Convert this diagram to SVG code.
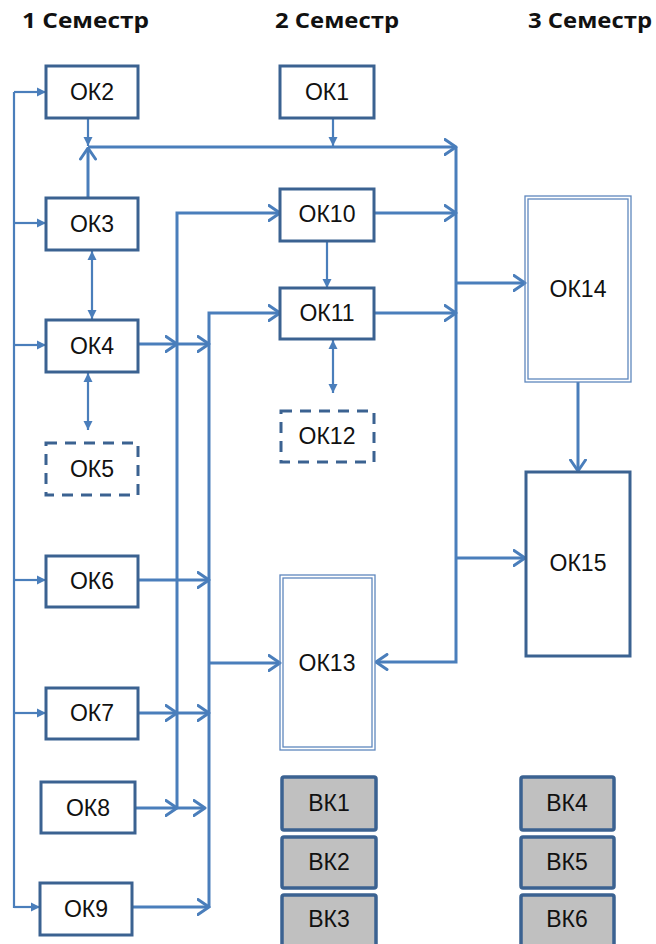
<svg xmlns="http://www.w3.org/2000/svg" width="656" height="944" viewBox="0 0 656 944">
<style>
.box{fill:#fff;stroke:#3B6291;stroke-width:3}
.dash{fill:#fff;stroke:#3B6291;stroke-width:3;stroke-dasharray:11 8}
.dbl{fill:none;stroke:#5F87BD;stroke-width:1.3}
.vk{fill:#C0C0C0;stroke:#3B6291;stroke-width:3.5}
.t{font-family:"Liberation Sans",Arial,sans-serif;font-size:23px;fill:#111;text-anchor:middle;dominant-baseline:central}
.h{font-family:"Open Sans","Liberation Sans",Arial,sans-serif;font-size:22px;font-weight:bold;fill:#111}
.c{fill:none;stroke:#4A7EBB;stroke-width:3}
.c2{fill:none;stroke:#4A7EBB;stroke-width:2.2}
.ch{marker-end:url(#chev)}
.tr{marker-end:url(#tri)}
.tr2{marker-start:url(#tri);marker-end:url(#tri)}
</style>
<defs>
<marker id="chev" viewBox="0 0 14 18" refX="12.5" refY="9" markerWidth="14" markerHeight="18" orient="auto" markerUnits="userSpaceOnUse">
<path d="M1.5,1.5 L12.5,9 L1.5,16.5" fill="none" stroke="#4A7EBB" stroke-width="3" stroke-linecap="round" stroke-linejoin="round"/>
</marker>
<marker id="tri" viewBox="0 0 10 10" refX="10" refY="5" markerWidth="9" markerHeight="10" orient="auto-start-reverse" markerUnits="userSpaceOnUse">
<path d="M0,0 L10,5 L0,10 z" fill="#4A7EBB"/>
</marker>
</defs>

<g id="headers">
<text class="h" x="22" y="28" textLength="127" lengthAdjust="spacingAndGlyphs">1 Семестр</text>
<text class="h" x="275" y="28" textLength="124" lengthAdjust="spacingAndGlyphs">2 Семестр</text>
<text class="h" x="528" y="28" textLength="124" lengthAdjust="spacingAndGlyphs">3 Семестр</text>
</g>

<g id="connectors">
<path class="c2" d="M14,92 V908"/>
<path class="c2 tr" d="M14,92 H46"/>
<path class="c2 tr" d="M14,223 H46"/>
<path class="c2 tr" d="M14,345 H46"/>
<path class="c2 tr" d="M14,580 H46"/>
<path class="c2 tr" d="M14,713 H46"/>
<path class="c2 tr" d="M14,907 H40"/>
<path class="c2 tr" d="M88,118 V146"/>
<path class="c ch" d="M88,198 V148"/>
<path class="c ch" d="M88,147 H456"/>
<path class="c2 tr" d="M333,118 V146"/>
<path class="c2 tr2" d="M92,251 V319"/>
<path class="c2 tr2" d="M88,373 V430"/>
<path class="c2 tr2" d="M333,340 V393"/>
<path class="c ch" d="M138,344 H177"/>
<path class="c ch" d="M177,344 H209"/>
<path class="c ch" d="M177,808 V213 H280"/>
<path class="c ch" d="M209,908 V313 H280"/>
<path class="c ch" d="M209,663 H280"/>
<path class="c ch" d="M138,580 H209"/>
<path class="c ch" d="M138,713 H177"/>
<path class="c ch" d="M177,713 H209"/>
<path class="c ch" d="M135,808 H177"/>
<path class="c ch" d="M177,808 H205"/>
<path class="c ch" d="M132,907 H209"/>
<path class="c2 tr" d="M327,241 V288"/>
<path class="c ch" d="M374,213 H456"/>
<path class="c ch" d="M374,313 H456"/>
<path class="c ch" d="M456,147 V662 H376"/>
<path class="c ch" d="M456,283 H525"/>
<path class="c ch" d="M456,558 H525"/>
<path class="c ch" d="M578,382 V471"/>
</g>

<g id="OK2"><rect class="box" x="46" y="66" width="92" height="52"/><text class="t" x="92" y="92">ОК2</text></g>
<g id="OK3"><rect class="box" x="46" y="198" width="92" height="52"/><text class="t" x="92" y="224">ОК3</text></g>
<g id="OK4"><rect class="box" x="46" y="320" width="92" height="52"/><text class="t" x="92" y="346">ОК4</text></g>
<g id="OK5"><rect class="dash" x="46" y="443" width="92" height="52"/><text class="t" x="92" y="469">ОК5</text></g>
<g id="OK6"><rect class="box" x="46" y="556" width="92" height="51"/><text class="t" x="92" y="581">ОК6</text></g>
<g id="OK7"><rect class="box" x="46" y="688" width="92" height="51"/><text class="t" x="92" y="713">ОК7</text></g>
<g id="OK8"><rect class="box" x="41" y="782" width="94" height="51"/><text class="t" x="88" y="808">ОК8</text></g>
<g id="OK9"><rect class="box" x="40" y="883" width="92" height="52"/><text class="t" x="86" y="909">ОК9</text></g>

<g id="OK1"><rect class="box" x="280" y="66" width="94" height="52"/><text class="t" x="327" y="92">ОК1</text></g>
<g id="OK10"><rect class="box" x="280" y="189" width="94" height="52"/><text class="t" x="327" y="214">ОК10</text></g>
<g id="OK11"><rect class="box" x="280" y="288" width="94" height="51"/><text class="t" x="327" y="313">ОК11</text></g>
<g id="OK12"><rect class="dash" x="281" y="411" width="93" height="51"/><text class="t" x="327" y="436">ОК12</text></g>
<g id="OK13"><rect class="dbl" x="280" y="575" width="95" height="175"/><rect class="dbl" x="283" y="578" width="89" height="169"/><text class="t" x="327" y="663">ОК13</text></g>

<g id="OK14"><rect class="dbl" x="525" y="196" width="106" height="186"/><rect class="dbl" x="528" y="199" width="100" height="180"/><text class="t" x="578" y="289">ОК14</text></g>
<g id="OK15"><rect class="box" x="526" y="472" width="104" height="184"/><text class="t" x="578" y="563">ОК15</text></g>

<g id="BK1"><rect class="vk" x="282" y="777" width="94" height="53" rx="2"/><text class="t" x="329" y="803">ВК1</text></g>
<g id="BK2"><rect class="vk" x="282" y="837" width="94" height="51" rx="2"/><text class="t" x="329" y="862">ВК2</text></g>
<g id="BK3"><rect class="vk" x="282" y="895" width="94" height="53" rx="2"/><text class="t" x="329" y="919">ВК3</text></g>
<g id="BK4"><rect class="vk" x="521" y="777" width="93" height="53" rx="2"/><text class="t" x="567" y="803">ВК4</text></g>
<g id="BK5"><rect class="vk" x="521" y="837" width="93" height="51" rx="2"/><text class="t" x="567" y="862">ВК5</text></g>
<g id="BK6"><rect class="vk" x="521" y="895" width="93" height="53" rx="2"/><text class="t" x="567" y="919">ВК6</text></g>
</svg>
